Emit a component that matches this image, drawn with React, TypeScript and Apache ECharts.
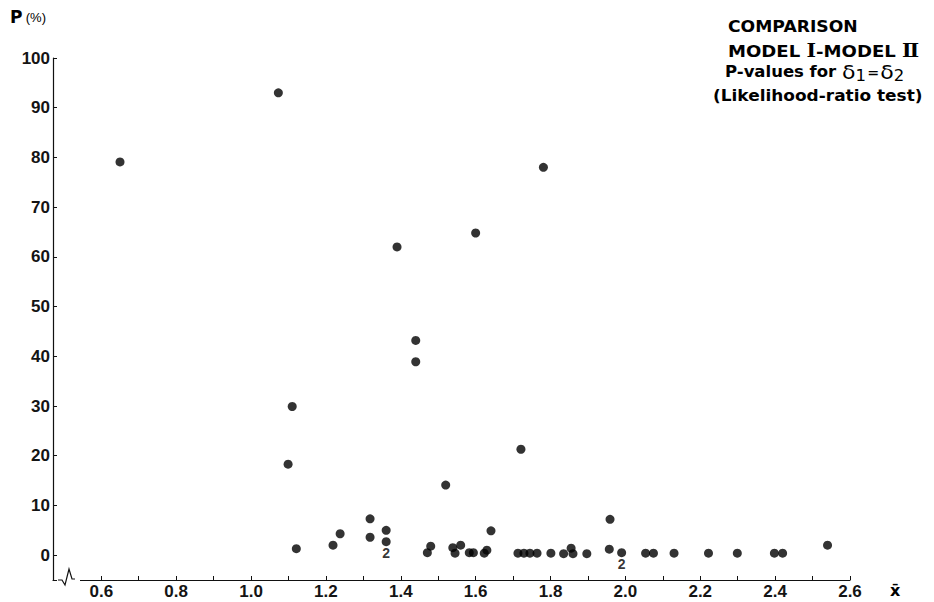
import React, { useEffect, useRef } from "react";
import * as echarts from "echarts";

// Axis ranges and ticks
const xMin = 0.471;
const xMax = 2.6;
const yMin = -5;
const yMax = 100;
const xTickValues = [0.6, 0.7, 0.8, 0.9, 1.0, 1.1, 1.2, 1.3, 1.4, 1.5, 1.6, 1.7, 1.8, 1.9, 2.0, 2.1, 2.2, 2.3, 2.4, 2.5, 2.6];
const xLabelValues = [0.6, 0.8, 1.0, 1.2, 1.4, 1.6, 1.8, 2.0, 2.2, 2.4, 2.6];
const yTickValues = [0, 10, 20, 30, 40, 50, 60, 70, 80, 90, 100];

// Single observations: mean x̄ and P-value (%)
const pointsX = [
  0.65, 1.073, 1.099, 1.11, 1.121, 1.219, 1.238, 1.318, 1.318, 1.361,
  1.39, 1.44, 1.44, 1.471, 1.48, 1.52, 1.539, 1.545, 1.56, 1.583,
  1.594, 1.6, 1.623, 1.63, 1.641, 1.713, 1.721, 1.729, 1.745, 1.764,
  1.781, 1.801, 1.835, 1.855, 1.86, 1.897, 1.957, 1.959, 2.054, 2.075,
  2.13, 2.222, 2.299, 2.398, 2.42, 2.54,
];
const pointsY = [
  79.1, 93.0, 18.3, 29.9, 1.3, 2.0, 4.3, 7.3, 3.6, 5.0,
  62.0, 43.2, 38.9, 0.5, 1.8, 14.1, 1.5, 0.4, 2.0, 0.5,
  0.5, 64.8, 0.4, 1.0, 4.9, 0.4, 21.3, 0.4, 0.4, 0.4,
  78.0, 0.4, 0.3, 1.4, 0.3, 0.3, 1.2, 7.2, 0.4, 0.4,
  0.4, 0.4, 0.4, 0.4, 0.4, 2.0,
];

// Coinciding observations (two at the same position)
const doubleX = [1.361, 1.99];
const doubleY = [2.7, 0.5];
const doubleLabel = ["2", "2"];

const titleLine1 = "COMPARISON";
const testLine = "(Likelihood-ratio test)";

export default function App() {
  const ref = useRef<HTMLDivElement>(null);

  useEffect(() => {
    document.body.style.margin = "0";
    if (!ref.current) return;
    const chart = echarts.init(ref.current, undefined, { renderer: "svg" });
    const labelFont = "'Liberation Sans Narrow', 'Liberation Sans', Arial, sans-serif";
    const plainFont = "'Liberation Sans', Arial, sans-serif";
    const titleFont = "'DejaVu Sans', 'Liberation Sans', sans-serif";
    const serifFont = "'DejaVu Serif', 'Liberation Serif', serif";

    chart.setOption({
      animation: false,
      backgroundColor: "#ffffff",
      grid: { left: 53, right: 84, top: 58, bottom: 22, containLabel: false },
      xAxis: {
        type: "value",
        min: xMin,
        max: xMax,
        splitLine: { show: false },
        axisLine: { show: true, onZero: false, lineStyle: { color: "#111", width: 1.2 } },
        axisTick: {
          show: true,
          inside: true,
          length: 4,
          customValues: xTickValues,
          lineStyle: { color: "#111", width: 1 },
        },
        axisLabel: {
          customValues: xLabelValues,
          formatter: (v: number) => v.toFixed(1),
          fontSize: 17,
          fontWeight: "bold",
          color: "#141414",
          fontFamily: labelFont,
          margin: 3,
        },
      },
      yAxis: {
        type: "value",
        min: yMin,
        max: yMax,
        splitLine: { show: false },
        axisLine: { show: true, onZero: false, lineStyle: { color: "#111", width: 1.2 } },
        axisTick: {
          show: true,
          inside: true,
          length: 4,
          customValues: yTickValues,
          lineStyle: { color: "#111", width: 1 },
        },
        axisLabel: {
          customValues: yTickValues,
          fontSize: 17,
          fontWeight: "bold",
          color: "#141414",
          fontFamily: labelFont,
          margin: 3,
        },
      },
      series: [
        {
          type: "scatter",
          symbol: "circle",
          symbolSize: 9,
          itemStyle: { color: "#000" },
          data: pointsX.map((x, i) => [x, pointsY[i]]),
        },
        {
          type: "scatter",
          symbol: "circle",
          symbolSize: 9,
          itemStyle: { color: "#000" },
          label: {
            show: true,
            position: "bottom",
            distance: 0,
            formatter: (p: any) => doubleLabel[p.dataIndex],
            fontSize: 14,
            fontWeight: "bold",
            color: "#000",
            fontFamily: plainFont,
          },
          data: doubleX.map((x, i) => [x, doubleY[i]]),
        },
      ],
      graphic: [
        // axis break on the x axis
        { type: "rect", z: 100, shape: { x: 57, y: 575, width: 23, height: 8 }, style: { fill: "#fff" } },
        {
          type: "polyline",
          z: 101,
          shape: { points: [[58, 580], [62, 580], [65, 585], [69, 569], [72, 579], [75, 579]] },
          style: { stroke: "#111", lineWidth: 1.2, fill: null },
        },
        // y axis title
        {
          type: "text",
          z: 100,
          x: 10,
          y: 8,
          style: {
            text: "{b|P} {s|(%)}",
            rich: {
              b: { fontSize: 17, fontWeight: "bold", fontFamily: titleFont, fill: "#000", verticalAlign: "middle", lineHeight: 18 },
              s: { fontSize: 13, fontFamily: plainFont, fill: "#000", verticalAlign: "middle", lineHeight: 18 },
            },
          },
        },
        // x axis title
        {
          type: "text",
          z: 100,
          x: 890,
          y: 582,
          style: { text: "x\u0304", fontSize: 16, fontWeight: "bold", fontFamily: titleFont, fill: "#000" },
        },
        // chart title block
        {
          type: "text",
          z: 100,
          x: 728,
          y: 19,
          scaleX: 1.075,
          style: { text: titleLine1, fontSize: 16, fontWeight: "bold", fontFamily: titleFont, fill: "#000" },
        },
        {
          type: "text",
          z: 100,
          x: 728,
          y: 41,
          scaleX: 1.13,
          style: {
            text: "{m|MODEL }{r|\u2160}{m|-MODEL }{r|\u2161}",
            rich: {
              m: { fontSize: 16, fontWeight: "bold", fontFamily: titleFont, fill: "#000", lineHeight: 20, verticalAlign: "middle" },
              r: { fontSize: 18, fontWeight: "bold", fontFamily: serifFont, fill: "#000", lineHeight: 20, verticalAlign: "middle" },
            },
          },
        },
        {
          type: "text",
          z: 100,
          x: 725,
          y: 61,
          scaleX: 1.1,
          style: {
            text: "{a|P-values for }{d|\u03b4}{s|1}{e|=}{d|\u03b4}{s|2}",
            rich: {
              a: { fontSize: 15, fontWeight: "bold", fontFamily: titleFont, fill: "#000", lineHeight: 22, verticalAlign: "middle" },
              d: { fontSize: 20, fontFamily: titleFont, fill: "#000", lineHeight: 22, verticalAlign: "middle" },
              e: { fontSize: 13, fontWeight: "bold", fontFamily: titleFont, fill: "#000", lineHeight: 22, verticalAlign: "middle", padding: [0, 1, 0, 1] },
              s: { fontSize: 15, fontFamily: titleFont, fill: "#000", lineHeight: 22, verticalAlign: "bottom", padding: [6, 0, 0, 0] },
            },
          },
        },
        {
          type: "text",
          z: 100,
          x: 713,
          y: 88,
          scaleX: 1.13,
          style: { text: testLine, fontSize: 15, fontWeight: "bold", fontFamily: titleFont, fill: "#000" },
        },
      ],
    });
    return () => chart.dispose();
  }, []);

  return (
    <div
      ref={ref}
      style={{ position: "absolute", left: 0, top: 0, width: 934, height: 602, background: "#fff" }}
    />
  );
}
